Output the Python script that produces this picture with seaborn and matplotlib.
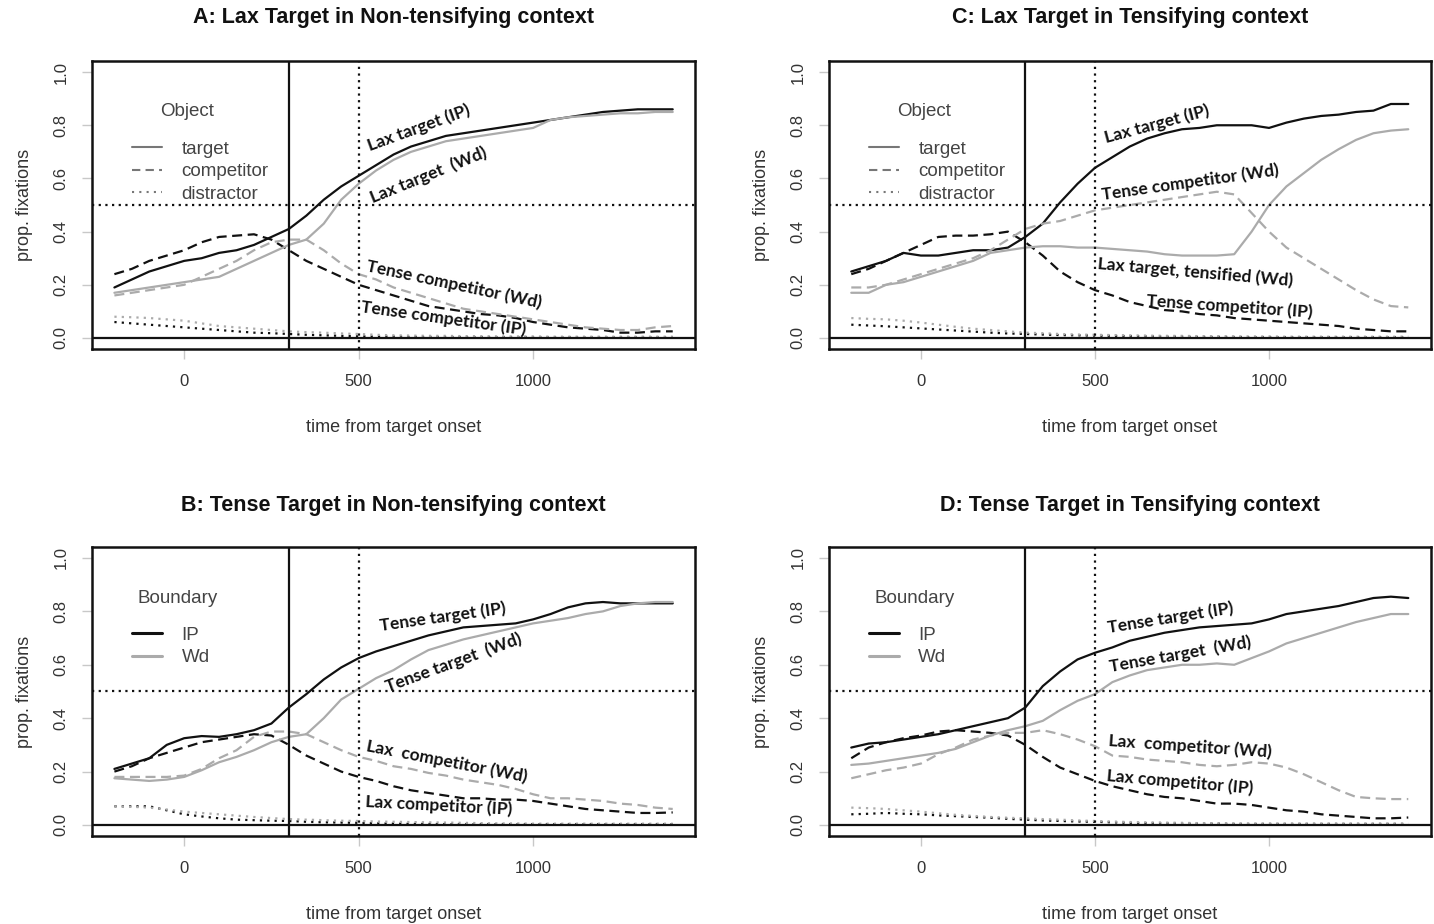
import numpy as np
import pandas as pd
import matplotlib
matplotlib.use("Agg")
import matplotlib.pyplot as plt
import seaborn as sns
from matplotlib.lines import Line2D
from matplotlib import font_manager

# time axis (ms from target onset), 50 ms steps
time_ms = list(range(-200, 1401, 50))

# Panel A: Lax target in non-tensifying context
a_target_ip = [0.19, 0.22, 0.25, 0.27, 0.29, 0.30, 0.32, 0.33, 0.35, 0.38, 0.41, 0.46, 0.52, 0.57, 0.61, 0.65, 0.69,
               0.72, 0.74, 0.76, 0.77, 0.78, 0.79, 0.80, 0.81, 0.82, 0.83, 0.84, 0.85, 0.855, 0.86, 0.86, 0.86]
a_target_wd = [0.17, 0.18, 0.19, 0.20, 0.21, 0.22, 0.23, 0.26, 0.29, 0.32, 0.35, 0.37, 0.43, 0.52, 0.58, 0.63, 0.67,
               0.70, 0.72, 0.74, 0.75, 0.76, 0.77, 0.78, 0.79, 0.82, 0.83, 0.835, 0.84, 0.845, 0.845, 0.85, 0.85]
a_comp_ip = [0.24, 0.26, 0.29, 0.31, 0.33, 0.36, 0.38, 0.385, 0.39, 0.37, 0.33, 0.29, 0.26, 0.23, 0.20, 0.18, 0.16,
             0.14, 0.12, 0.11, 0.10, 0.09, 0.085, 0.075, 0.06, 0.05, 0.04, 0.035, 0.03, 0.02, 0.02, 0.025, 0.025]
a_comp_wd = [0.16, 0.17, 0.18, 0.19, 0.20, 0.23, 0.26, 0.29, 0.33, 0.36, 0.37, 0.37, 0.33, 0.28, 0.24, 0.22, 0.19,
             0.17, 0.15, 0.13, 0.11, 0.10, 0.09, 0.08, 0.07, 0.06, 0.05, 0.04, 0.035, 0.03, 0.03, 0.04, 0.045]
a_dist_ip = [0.06, 0.055, 0.05, 0.045, 0.04, 0.035, 0.03, 0.025, 0.02, 0.018, 0.015, 0.012, 0.01, 0.008, 0.006, 0.005,
             0.005, 0.004, 0.004, 0.004, 0.003, 0.003, 0.003, 0.003, 0.002, 0.002, 0.002, 0.002, 0.002, 0.002, 0.002,
             0.002, 0.002]
a_dist_wd = [0.08, 0.078, 0.075, 0.07, 0.065, 0.055, 0.045, 0.04, 0.035, 0.03, 0.025, 0.022, 0.02, 0.017, 0.015,
             0.012, 0.01, 0.009, 0.008, 0.008, 0.007, 0.007, 0.006, 0.006, 0.006, 0.005, 0.005, 0.005, 0.005, 0.005,
             0.005, 0.005, 0.005]

# Panel B: Tense target in non-tensifying context
b_target_ip = [0.21, 0.23, 0.25, 0.30, 0.325, 0.333, 0.33, 0.34, 0.355, 0.38, 0.44, 0.49, 0.545, 0.59, 0.625, 0.65,
               0.67, 0.69, 0.71, 0.725, 0.74, 0.745, 0.75, 0.755, 0.77, 0.79, 0.815, 0.83, 0.835, 0.83, 0.83, 0.83,
               0.83]
b_target_wd = [0.175, 0.17, 0.165, 0.17, 0.18, 0.205, 0.235, 0.255, 0.28, 0.31, 0.33, 0.34, 0.40, 0.47, 0.51, 0.55,
               0.58, 0.62, 0.655, 0.675, 0.695, 0.71, 0.725, 0.74, 0.755, 0.765, 0.775, 0.79, 0.80, 0.82, 0.83, 0.835,
               0.835]
b_comp_ip = [0.20, 0.22, 0.25, 0.27, 0.29, 0.31, 0.32, 0.33, 0.34, 0.335, 0.30, 0.26, 0.23, 0.20, 0.18, 0.165, 0.145,
             0.13, 0.12, 0.11, 0.10, 0.10, 0.095, 0.095, 0.09, 0.08, 0.07, 0.06, 0.055, 0.05, 0.045, 0.045, 0.047]
b_comp_wd = [0.18, 0.18, 0.18, 0.18, 0.185, 0.21, 0.25, 0.28, 0.33, 0.35, 0.35, 0.34, 0.31, 0.28, 0.255, 0.24, 0.22,
             0.21, 0.195, 0.185, 0.17, 0.16, 0.15, 0.135, 0.115, 0.10, 0.10, 0.095, 0.09, 0.08, 0.075, 0.065, 0.06]
b_dist_ip = [0.07, 0.07, 0.07, 0.055, 0.04, 0.032, 0.025, 0.02, 0.018, 0.016, 0.015, 0.012, 0.01, 0.009, 0.008, 0.006,
             0.005, 0.004, 0.004, 0.003, 0.003, 0.003, 0.003, 0.003, 0.003, 0.003, 0.003, 0.003, 0.003, 0.003, 0.003,
             0.003, 0.003]
b_dist_wd = [0.07, 0.068, 0.065, 0.058, 0.05, 0.045, 0.04, 0.035, 0.03, 0.026, 0.022, 0.02, 0.018, 0.016, 0.015,
             0.013, 0.012, 0.011, 0.01, 0.009, 0.008, 0.007, 0.006, 0.006, 0.005, 0.005, 0.005, 0.005, 0.005, 0.005,
             0.005, 0.005, 0.005]

# Panel C: Lax target in tensifying context
c_target_ip = [0.25, 0.27, 0.29, 0.32, 0.31, 0.31, 0.32, 0.33, 0.33, 0.34, 0.38, 0.43, 0.51, 0.58, 0.64, 0.68, 0.72,
               0.75, 0.77, 0.785, 0.79, 0.80, 0.80, 0.80, 0.79, 0.81, 0.825, 0.835, 0.84, 0.85, 0.855, 0.88, 0.88]
c_target_wd = [0.17, 0.17, 0.20, 0.21, 0.23, 0.25, 0.27, 0.29, 0.32, 0.33, 0.34, 0.345, 0.345, 0.34, 0.34, 0.335,
               0.33, 0.325, 0.315, 0.31, 0.31, 0.31, 0.315, 0.40, 0.50, 0.57, 0.62, 0.67, 0.71, 0.745, 0.77, 0.78,
               0.785]
c_comp_ip = [0.24, 0.26, 0.29, 0.32, 0.35, 0.38, 0.385, 0.385, 0.39, 0.40, 0.36, 0.31, 0.25, 0.21, 0.18, 0.16, 0.135,
             0.12, 0.105, 0.10, 0.09, 0.085, 0.075, 0.07, 0.065, 0.06, 0.055, 0.05, 0.045, 0.035, 0.03, 0.025, 0.025]
c_comp_wd = [0.19, 0.19, 0.20, 0.22, 0.24, 0.26, 0.28, 0.30, 0.33, 0.37, 0.41, 0.43, 0.44, 0.46, 0.48, 0.49, 0.50,
             0.51, 0.52, 0.53, 0.54, 0.55, 0.54, 0.47, 0.40, 0.34, 0.30, 0.26, 0.22, 0.18, 0.145, 0.12, 0.115]
c_dist_ip = [0.05, 0.047, 0.044, 0.04, 0.036, 0.032, 0.028, 0.024, 0.02, 0.017, 0.015, 0.013, 0.011, 0.01, 0.009,
             0.008, 0.007, 0.006, 0.005, 0.005, 0.004, 0.004, 0.004, 0.003, 0.003, 0.003, 0.003, 0.003, 0.003, 0.003,
             0.003, 0.003, 0.003]
c_dist_wd = [0.075, 0.072, 0.07, 0.065, 0.058, 0.05, 0.042, 0.035, 0.03, 0.025, 0.02, 0.018, 0.015, 0.013, 0.012,
             0.011, 0.01, 0.009, 0.008, 0.008, 0.007, 0.007, 0.006, 0.006, 0.006, 0.005, 0.005, 0.005, 0.005, 0.005,
             0.005, 0.005, 0.005]

# Panel D: Tense target in tensifying context
d_target_ip = [0.29, 0.305, 0.31, 0.32, 0.33, 0.34, 0.355, 0.37, 0.385, 0.40, 0.44, 0.52, 0.575, 0.62, 0.645, 0.665,
               0.69, 0.705, 0.72, 0.73, 0.74, 0.745, 0.75, 0.755, 0.77, 0.79, 0.80, 0.81, 0.82, 0.835, 0.85, 0.855,
               0.85]
d_target_wd = [0.225, 0.23, 0.24, 0.25, 0.26, 0.27, 0.285, 0.31, 0.335, 0.355, 0.37, 0.39, 0.43, 0.465, 0.49, 0.535,
               0.56, 0.58, 0.59, 0.60, 0.60, 0.605, 0.60, 0.625, 0.65, 0.68, 0.70, 0.72, 0.74, 0.76, 0.775, 0.79,
               0.79]
d_comp_ip = [0.25, 0.29, 0.31, 0.325, 0.335, 0.35, 0.355, 0.35, 0.345, 0.335, 0.30, 0.255, 0.215, 0.19, 0.165, 0.145,
             0.13, 0.115, 0.105, 0.10, 0.09, 0.08, 0.08, 0.075, 0.065, 0.055, 0.05, 0.04, 0.035, 0.03, 0.025, 0.025,
             0.028]
d_comp_wd = [0.175, 0.19, 0.205, 0.215, 0.23, 0.265, 0.29, 0.32, 0.335, 0.345, 0.345, 0.355, 0.34, 0.32, 0.295, 0.26,
             0.255, 0.245, 0.24, 0.235, 0.225, 0.22, 0.225, 0.235, 0.23, 0.215, 0.19, 0.16, 0.13, 0.105, 0.10, 0.097,
             0.097]
d_dist_ip = [0.04, 0.042, 0.045, 0.042, 0.04, 0.036, 0.033, 0.03, 0.027, 0.023, 0.02, 0.017, 0.015, 0.013, 0.012,
             0.01, 0.008, 0.007, 0.006, 0.005, 0.005, 0.005, 0.004, 0.004, 0.004, 0.004, 0.004, 0.004, 0.004, 0.004,
             0.004, 0.004, 0.004]
d_dist_wd = [0.065, 0.063, 0.06, 0.055, 0.05, 0.044, 0.038, 0.034, 0.03, 0.027, 0.025, 0.022, 0.02, 0.017, 0.015,
             0.013, 0.011, 0.01, 0.009, 0.008, 0.007, 0.006, 0.006, 0.005, 0.005, 0.005, 0.005, 0.005, 0.005, 0.005,
             0.005, 0.005, 0.005]

titles = ["A: Lax Target in Non-tensifying context", "B: Tense Target in Non-tensifying context",
          "C: Lax Target in Tensifying context", "D: Tense Target in Tensifying context"]

# curve labels: (text, time, value, rotation)
labels_a = [("Lax target (IP)", 672, 0.79, 20), ("Lax target  (Wd)", 701, 0.613, 22),
            ("Tense competitor (Wd)", 773, 0.20, -12), ("Tense competitor (IP)", 744, 0.075, -8)]
labels_b = [("Tense target (IP)", 741, 0.779, 8), ("Tense target  (Wd)", 773, 0.607, 20),
            ("Lax  competitor (Wd)", 753, 0.236, -11), ("Lax competitor (IP)", 730, 0.071, -3)]
labels_c = [("Lax target (IP)", 678, 0.805, 15), ("Tense competitor (Wd)", 773, 0.586, 8),
            ("Lax target, tensified (Wd)", 787, 0.248, -5), ("Tense competitor (IP)", 888, 0.12, -4)]
labels_d = [("Tense target (IP)", 716, 0.775, 9), ("Tense target  (Wd)", 744, 0.64, 10),
            ("Lax  competitor (Wd)", 773, 0.296, -4), ("Lax competitor (IP)", 744, 0.161, -5)]

BLACK = "#111111"
GRAY = "#ababab"
TEXT = "#333333"

sns.set_style("white")
installed = {f.name for f in font_manager.fontManager.ttflist}
base_font = "Liberation Sans" if "Liberation Sans" in installed else "DejaVu Sans"
note_font = "Lato" if "Lato" in installed else base_font
plt.rcParams["font.family"] = [base_font, "DejaVu Sans"]


def panel_frame(series):
    rows = []
    for (obj, bnd), vals in series.items():
        for t, v in zip(time_ms, vals):
            rows.append({"time": t, "prop": v, "object": obj, "boundary": bnd})
    return pd.DataFrame(rows)


panels = [
    ("A", {("target", "IP"): a_target_ip, ("target", "Wd"): a_target_wd, ("competitor", "IP"): a_comp_ip,
           ("competitor", "Wd"): a_comp_wd, ("distractor", "IP"): a_dist_ip, ("distractor", "Wd"): a_dist_wd},
     labels_a, [0.0642, 0.6227, 0.4205, 0.3108], 18),
    ("B", {("target", "IP"): b_target_ip, ("target", "Wd"): b_target_wd, ("competitor", "IP"): b_comp_ip,
           ("competitor", "Wd"): b_comp_wd, ("distractor", "IP"): b_dist_ip, ("distractor", "Wd"): b_dist_wd},
     labels_b, [0.0642, 0.0956, 0.4205, 0.3121], 505),
    ("C", {("target", "IP"): c_target_ip, ("target", "Wd"): c_target_wd, ("competitor", "IP"): c_comp_ip,
           ("competitor", "Wd"): c_comp_wd, ("distractor", "IP"): c_dist_ip, ("distractor", "Wd"): c_dist_wd},
     labels_c, [0.5781, 0.6227, 0.4195, 0.3108], 18),
    ("D", {("target", "IP"): d_target_ip, ("target", "Wd"): d_target_wd, ("competitor", "IP"): d_comp_ip,
           ("competitor", "Wd"): d_comp_wd, ("distractor", "IP"): d_dist_ip, ("distractor", "Wd"): d_dist_wd},
     labels_d, [0.5781, 0.0956, 0.4195, 0.3121], 505),
]

dash_map = {"target": "", "competitor": (4.5, 2.5), "distractor": (1, 2.3)}

fig = plt.figure(figsize=(14.34, 9.24), dpi=100)

for key, series, notes, rect, title_y in panels:
    ax = fig.add_axes(rect)
    df = panel_frame(series)
    sns.lineplot(data=df, x="time", y="prop", hue="boundary", style="object",
                 palette={"IP": BLACK, "Wd": GRAY}, dashes=dash_map, estimator=None,
                 linewidth=1.6, legend=False, ax=ax)

    ax.axhline(0, color=BLACK, lw=1.6)
    ax.axhline(0.5, color=BLACK, lw=1.6, ls=(0, (1, 2)))
    ax.axvline(300, color=BLACK, lw=1.6)
    ax.axvline(500, color=BLACK, lw=1.6, ls=(0, (1, 2)))

    ax.set_xlim(-264, 1464)
    ax.set_ylim(-0.04, 1.04)
    ax.set_xticks([0, 500, 1000])
    ax.set_yticks([0.0, 0.2, 0.4, 0.6, 0.8, 1.0])
    ax.set_yticklabels(["0.0", "0.2", "0.4", "0.6", "0.8", "1.0"], rotation=90, va="center")
    ax.tick_params(axis="both", length=7, width=1, color="#c8c8c8", labelsize=12,
                   labelcolor=TEXT, direction="out", bottom=True, left=True)
    ax.tick_params(axis="x", pad=11)
    ax.tick_params(axis="y", pad=10)
    ax.set_xlabel("time from target onset", fontsize=13, color=TEXT, labelpad=22)
    ax.set_ylabel("prop. fixations", fontsize=13, color=TEXT, labelpad=15)
    for sp in ax.spines.values():
        sp.set_visible(True)
        sp.set_color(BLACK)
        sp.set_linewidth(1.8)

    # curve annotations
    for txt, tx, ty, rot in notes:
        ax.text(tx, ty, txt, rotation=rot, rotation_mode="anchor", ha="center", va="center",
                fontsize=12.5, fontweight="bold", family=[note_font, "DejaVu Sans"], color=BLACK)

    # legends
    if key in ("A", "C"):
        ax.text(0.113, 0.824, "Object", transform=ax.transAxes, fontsize=13.5, color="#444444",
                ha="left", va="center")
        handles = [Line2D([], [], color="#777777", lw=1.5, ls="-"),
                   Line2D([], [], color="#777777", lw=1.5, ls=(0, (4, 2.5))),
                   Line2D([], [], color="#777777", lw=1.5, ls=(0, (1, 2.5)))]
        names = ["target", "competitor", "distractor"]
    else:
        ax.text(0.075, 0.824, "Boundary", transform=ax.transAxes, fontsize=13.5, color="#444444",
                ha="left", va="center")
        handles = [Line2D([], [], color=BLACK, lw=2.2), Line2D([], [], color=GRAY, lw=2.2)]
        names = ["IP", "Wd"]
    leg = ax.legend(handles, names, loc="upper left", bbox_to_anchor=(0.066, 0.725), frameon=False,
                    fontsize=13.5, handlelength=1.6, handletextpad=1.05, labelspacing=0.3,
                    borderpad=0, borderaxespad=0)
    for t in leg.get_texts():
        t.set_color("#444444")

    cx = rect[0] + rect[2] / 2
    fig.text(cx, 1 - title_y / 924, titles["ABCD".index(key)], ha="center", va="center",
             fontsize=15.5, fontweight="bold", color=BLACK)

fig.savefig("out.png", dpi=100)
